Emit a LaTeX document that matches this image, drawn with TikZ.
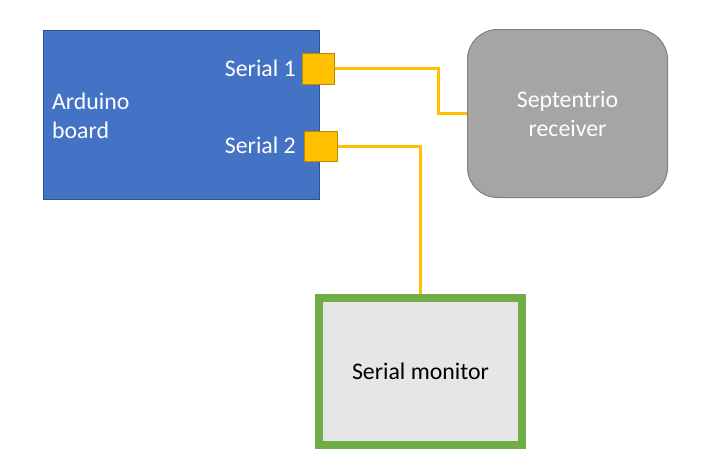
\documentclass[tikz,border=0pt]{standalone}
\usepackage{fontspec}
\setmainfont{Carlito}
\usepackage{tikz}
\usetikzlibrary{calc}

\definecolor{boardblue}{HTML}{4472C4}
\definecolor{boardedge}{HTML}{2F528F}
\definecolor{portyellow}{HTML}{FFC000}
\definecolor{portedge}{HTML}{BC8C00}
\definecolor{rxgray}{HTML}{A5A5A5}
\definecolor{rxedge}{HTML}{7F7F7F}
\definecolor{monfill}{HTML}{E7E6E6}
\definecolor{mongreen}{HTML}{70AD47}

\begin{document}
\begin{tikzpicture}[x=1pt,y=-1pt,
    every node/.style={font=\fontsize{23.8}{29}\selectfont, inner sep=0pt},
    board/.style={draw=boardedge, fill=boardblue, line width=1pt},
    port/.style={draw=portedge, fill=portyellow, line width=1pt},
    wire/.style={draw=portyellow, line width=3pt},
    receiver/.style={draw=rxedge, fill=rxgray, line width=1pt, rounded corners=30pt},
    monitor/.style={draw=mongreen, fill=monfill, line width=8pt}]
        \useasboundingbox (0,0) rectangle (708,472);

        % the Arduino board and its two serial ports
        \node[board, minimum width=276pt, minimum height=169pt] (arduino) at (181,114.5) {};
        \node[anchor=west, align=left, text=white] (arduinotxt) at (52,116) {Arduino\\board};
        \node[port, minimum width=32pt, minimum height=31pt] (s1) at (318,68.5) {};
        \node[port, minimum width=33pt, minimum height=30pt] (s2) at (320.5,146) {};
        \node[anchor=base east, text=white] (s1txt) at (296,76) {Serial 1};
        \node[anchor=base east, text=white] (s2txt) at (296,153) {Serial 2};

        % the receiver and the serial monitor
        \node[receiver, minimum width=200pt, minimum height=168pt, align=center, text=white] (rx) at (567.5,113.5) {Septentrio\\receiver};
        \node[monitor, minimum width=203pt, minimum height=147pt] (mon) at (420.5,371.5) {Serial monitor};

        % wires
        \coordinate (bend1) at (438,68.5);
        \draw[wire] (s1.east) -- (bend1) |- (rx.west);
        \draw[wire] (s2.east) -| (mon.north);
    \end{tikzpicture}
\end{document}
